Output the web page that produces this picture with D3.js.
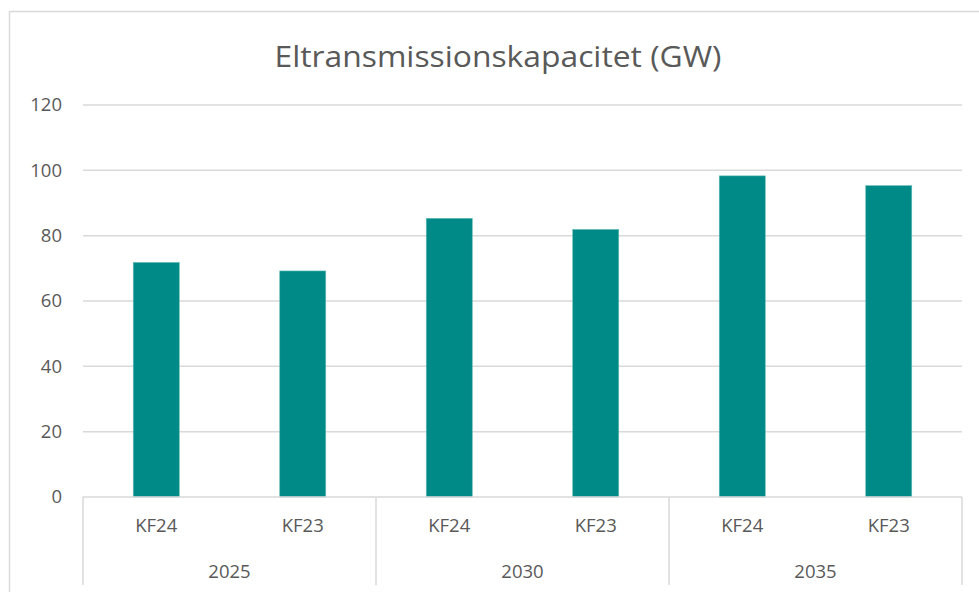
<!DOCTYPE html>
<html><head><meta charset="utf-8">
<script src="https://cdn.jsdelivr.net/npm/d3@7"></script>
<style>body{margin:0;background:#fff}svg{display:block}</style>
</head><body>
<script>
const title = "Eltransmissionskapacitet (GW)";
const years = ["2025", "2030", "2035"];
const scenarios = ["KF24", "KF23"];
const values = [71.8, 69.2, 85.3, 81.9, 98.3, 95.3];
const yTicks = [0, 20, 40, 60, 80, 100, 120];

(function () {
const W = 979, H = 592;
const pLeft = 83, pRight = 962, pTop = 105, pBase = 497;
const svg = d3.select("body").append("svg").attr("width", W).attr("height", H);
const font = "'Open Sans', 'Noto Sans', sans-serif";

// outer border
svg.append("rect").attr("x", 9.5).attr("y", 11.5).attr("width", 990).attr("height", 600)
  .attr("fill", "none").attr("stroke", "#d9d9d9").attr("stroke-width", 1.5);

const y = d3.scaleLinear().domain([0, 120]).range([pBase, pTop]);
const x0 = d3.scaleBand().domain(years).range([pLeft, pRight]);
const x1 = d3.scaleBand().domain(scenarios).range([0, x0.bandwidth()]);
const barW = x1.bandwidth() * 0.314;

// gridlines
svg.append("g").selectAll("line").data(yTicks.filter(d => d > 0)).join("line")
  .attr("x1", pLeft).attr("x2", pRight)
  .attr("y1", d => y(d)).attr("y2", d => y(d))
  .attr("stroke", "#d9d9d9").attr("stroke-width", 1.5);

// y labels
svg.append("g").selectAll("text").data(yTicks).join("text")
  .attr("x", 62).attr("y", d => y(d)).attr("dy", "0.35em")
  .attr("text-anchor", "end").attr("fill", "#595959")
  .attr("font-family", font).attr("font-size", 18.5).text(d => d);

// bars
const data = [];
years.forEach((yr, i) => scenarios.forEach((s, j) => data.push({yr, s, v: values[i * 2 + j]})));
svg.append("g").selectAll("rect").data(data).join("rect")
  .attr("x", d => x0(d.yr) + x1(d.s) + (x1.bandwidth() - barW) / 2)
  .attr("width", barW)
  .attr("y", d => y(d.v)).attr("height", d => pBase - y(d.v))
  .attr("fill", "#008a87").attr("stroke", "#5fb8b5").attr("stroke-width", 0.6);

// baseline
svg.append("line").attr("x1", pLeft).attr("x2", pRight).attr("y1", pBase).attr("y2", pBase)
  .attr("stroke", "#d9d9d9").attr("stroke-width", 1.5);

// separators
const seps = years.map(d => x0(d)).concat([pRight]);
svg.append("g").selectAll("line").data(seps).join("line")
  .attr("x1", d => d).attr("x2", d => d).attr("y1", pBase).attr("y2", 585)
  .attr("stroke", "#d9d9d9").attr("stroke-width", 1.5);

// scenario labels
svg.append("g").selectAll("text").data(data).join("text")
  .attr("x", d => x0(d.yr) + x1(d.s) + x1.bandwidth() / 2).attr("y", 526).attr("dy", "0.35em")
  .attr("text-anchor", "middle").attr("fill", "#595959")
  .attr("font-family", font).attr("font-size", 18.5).text(d => d.s);

// year labels
svg.append("g").selectAll("text").data(years).join("text")
  .attr("x", d => x0(d) + x0.bandwidth() / 2).attr("y", 572).attr("dy", "0.35em")
  .attr("text-anchor", "middle").attr("fill", "#595959")
  .attr("font-family", font).attr("font-size", 18.5).text(d => d);

// title
svg.append("text").attr("x", 498).attr("y", 57).attr("dy", "0.35em")
  .attr("text-anchor", "middle").attr("fill", "#595959")
  .attr("font-family", font).attr("font-size", 29)
  .attr("textLength", 447).attr("lengthAdjust", "spacingAndGlyphs").text(title);
})();
</script>
</body></html>
